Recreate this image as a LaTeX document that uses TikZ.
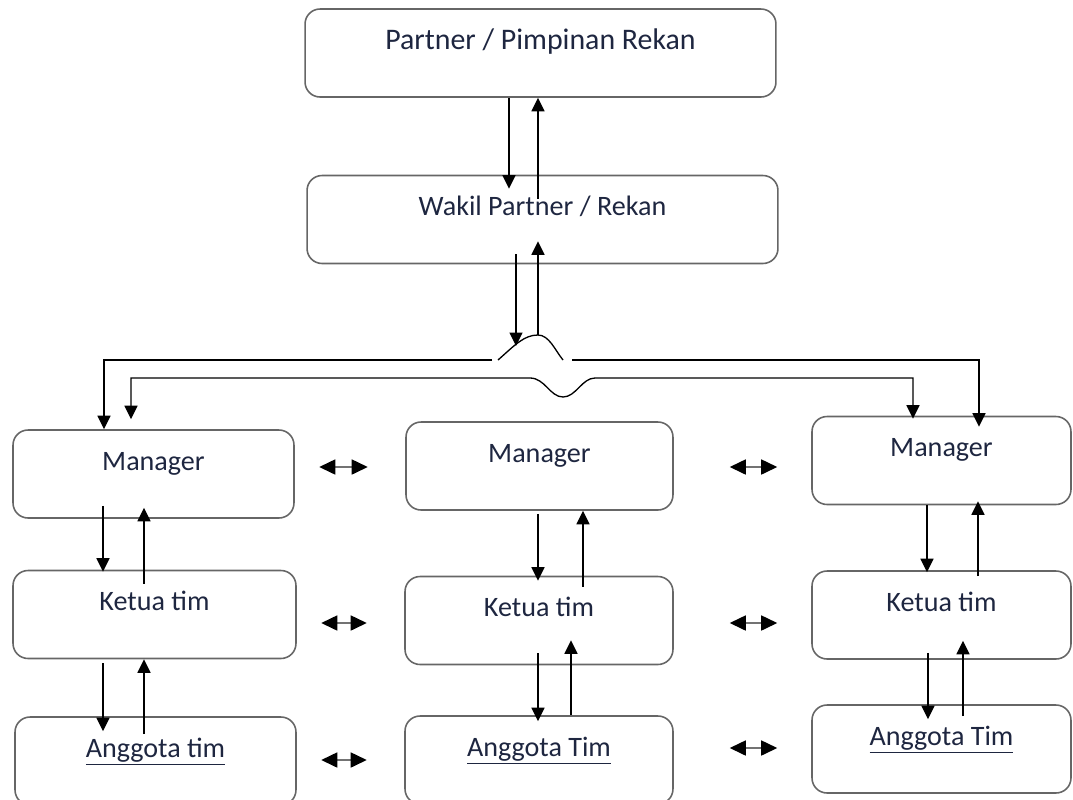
\documentclass[tikz,border=0pt]{standalone}
\usepackage{fontspec}
\setmainfont{Carlito}
\usetikzlibrary{arrows.meta}

\definecolor{txt}{RGB}{30,38,64}

\tikzset{
  box/.style={draw=black!60, line width=0.9pt, rounded corners=0.3cm, inner sep=0pt,
    text height=0.8cm, text depth=0.96cm, minimum width=#1, text=txt,
    font=\fontsize{16}{19}\selectfont},
  arr/.style={line width=0.75pt, -{Triangle[length=0.27cm,width=0.26cm]}},
  twoway/.style={draw=black!55, line width=0.9pt,
    {Triangle[length=0.32cm,width=0.3cm,color=black]}-{Triangle[length=0.32cm,width=0.3cm,color=black]}}
}

\begin{document}
\begin{tikzpicture}[x=0.02cm, y=-0.02cm]
  \useasboundingbox (0,0) rectangle (1073,799);

  % top of the structure
  \node[box=9.42cm, font=\fontsize{17}{20}\selectfont] (top) at (540.5,53) {Partner / Pimpinan Rekan};
  \node[box=9.42cm] (wakil) at (542.5,219.5) {Wakil Partner / Rekan};

  % three columns
  \node[box=5.62cm] (m1) at (153.5,474) {Manager};
  \node[box=5.66cm] (k1) at (154.5,614.5) {Ketua tim};
  \node[box=5.62cm] (a1) at (155.5,761) {\underline{Anggota tim}};
  \node[box=5.34cm] (m2) at (539.5,466) {Manager};
  \node[box=5.36cm] (k2) at (539,620.5) {Ketua tim};
  \node[box=5.36cm] (a2) at (539,760) {\underline{Anggota Tim}};
  \node[box=5.18cm] (m3) at (941.5,460.5) {Manager};
  \node[box=5.18cm] (k3) at (941.5,615) {Ketua tim};
  \node[box=5.18cm] (a3) at (941.5,749) {\underline{Anggota Tim}};

  % points of the line jump
  \coordinate (h1l) at (492,360);
  \coordinate (h1r) at (572,360);
  \coordinate (bl) at (498,360);
  \coordinate (br) at (563,360);
  \coordinate (peak) at (538,335);
  \coordinate (hit) at (516,346);
  \coordinate (h2l) at (530,378);
  \coordinate (h2r) at (595,378);

  % partner <-> wakil
  \draw[arr, shorten >=-0.28cm] (top.south -| 509,0) -- (wakil.north -| 509,0);
  \draw[arr, shorten <=-0.48cm] (wakil.north -| 538,0) -- (top.south -| 538,0);
  \draw[arr, shorten <=-0.2cm] (wakil.south -| hit) -- (hit);
  \draw[arr, shorten >=-0.46cm] (peak) -- (wakil.south -| peak);

  % lines down to the managers
  \draw[line width=0.75pt] (bl) .. controls (515,345) and (524,335) .. (peak)
    .. controls (549,335) and (555,350) .. (br);
  \draw[arr] (h1l) -| (m1.north -| 104,0);
  \draw[arr, shorten >=-0.22cm] (h1r) -| (m3.north -| 979,0);
  \draw[line width=0.75pt, {Triangle[length=0.27cm,width=0.26cm]}-{Triangle[length=0.27cm,width=0.26cm]},
    shorten <=0.2cm, shorten >=-0.06cm]
    (m1.north -| 131,0) |- (h2l) .. controls (545,378) and (550,397) .. (563,397)
    .. controls (576,397) and (582,378) .. (h2r) -| (m3.north -| 913,0);

  % left column
  \draw[arr, shorten <=-0.26cm, shorten >=-0.04cm] (m1.south -| 103,0) -- (k1.north -| 103,0);
  \draw[arr, shorten <=-0.28cm, shorten >=-0.22cm] (k1.north -| 144,0) -- (m1.south -| 144,0);
  \draw[arr, shorten <=0.08cm, shorten >=-0.3cm] (k1.south -| 103,0) -- (a1.north -| 103,0);
  \draw[arr, shorten <=-0.36cm] (a1.north -| 144,0) -- (k1.south -| 144,0);

  % middle column
  \draw[arr, shorten <=0.06cm, shorten >=-0.1cm] (m2.south -| 538,0) -- (k2.north -| 538,0);
  \draw[arr, shorten <=-0.22cm] (k2.north -| 583,0) -- (m2.south -| 583,0);
  \draw[arr, shorten <=-0.24cm, shorten >=-0.12cm] (k2.south -| 538,0) -- (a2.north -| 538,0);
  \draw[arr, shorten >=-0.5cm] (a2.north -| 571,0) -- (k2.south -| 571,0);

  % right column
  \draw[arr, shorten >=-0.04cm] (m3.south -| 927,0) -- (k3.north -| 927,0);
  \draw[arr, shorten <=-0.12cm, shorten >=-0.08cm] (k3.north -| 978,0) -- (m3.south -| 978,0);
  \draw[arr, shorten <=-0.14cm, shorten >=-0.3cm] (k3.south -| 928,0) -- (a3.north -| 928,0);
  \draw[arr, shorten <=-0.24cm, shorten >=-0.38cm] (a3.north -| 963,0) -- (k3.south -| 963,0);

  % between the columns
  \foreach \l/\r/\y in {m1/m2/467, k1/k2/623, a1/a2/760}
    \draw[twoway, shorten <=0.49cm, shorten >=0.75cm] (\l.east |- 0,\y) -- (\r.west |- 0,\y);
  \foreach \l/\r/\y in {m2/m3/467, k2/k3/623, a2/a3/748}
    \draw[twoway, shorten <=1.12cm, shorten >=0.68cm] (\l.east |- 0,\y) -- (\r.west |- 0,\y);
\end{tikzpicture}
\end{document}
